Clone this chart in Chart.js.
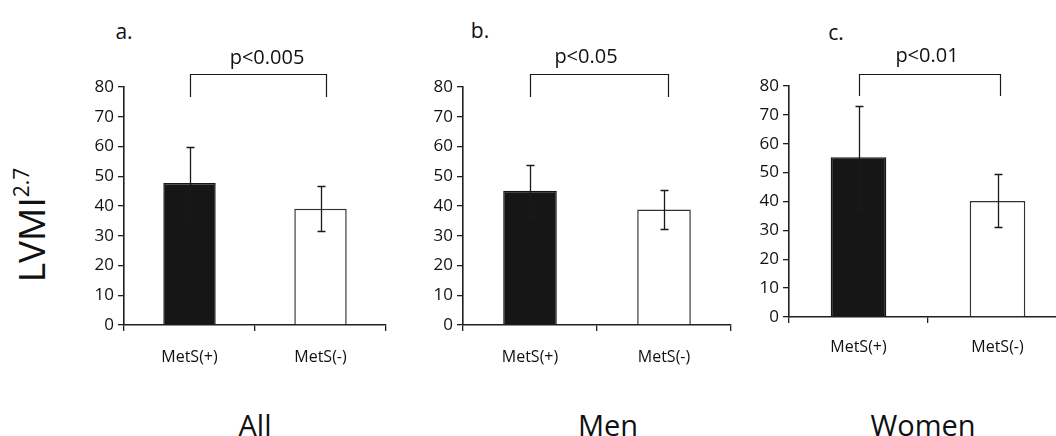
<!DOCTYPE html>
<html>
<head>
<meta charset="utf-8">
<script src="https://cdn.jsdelivr.net/npm/chart.js@4.4.1/dist/chart.umd.min.js"></script>
<style>
  html, body { margin: 0; padding: 0; background: #fff; overflow: hidden; }
  body { width: 1056px; height: 436px; position: relative; font-family: 'Open Sans', sans-serif; color: #111; }
  .panel { position: absolute; }
  .lbl { position: absolute; transform: translate(-50%, -50%); white-space: nowrap; line-height: 1; }
  .ylab { position: absolute; left: 30px; top: 225px; transform: translate(-50%, -50%) rotate(-90deg); font-size: 37px; white-space: nowrap; line-height: 1; }
  .ylab sup { font-size: 21px; vertical-align: 16px; }
</style>
</head>
<body>

<div class="ylab">LVMI<sup>2.7</sup></div>

<div class="panel" id="pa"><canvas id="ca"></canvas></div>
<div class="panel" id="pb"><canvas id="cb"></canvas></div>
<div class="panel" id="pc"><canvas id="cc"></canvas></div>

<div class="lbl" style="left:124px;top:31px;font-size:21px">a.</div>
<div class="lbl" style="left:480px;top:30px;font-size:21px">b.</div>
<div class="lbl" style="left:836px;top:32px;font-size:21px">c.</div>

<div class="lbl" style="left:267px;top:57px;font-size:20px">p&lt;0.005</div>
<div class="lbl" style="left:586px;top:56px;font-size:20px">p&lt;0.05</div>
<div class="lbl" style="left:927px;top:55px;font-size:20px">p&lt;0.01</div>

<div class="lbl" style="left:255px;top:424px;font-size:29px">All</div>
<div class="lbl" style="left:608px;top:424px;font-size:29px">Men</div>
<div class="lbl" style="left:923px;top:424px;font-size:29px">Women</div>

<script>
// ── Data ─────────────────────────────────────────────
const categories = ['MetS(+)', 'MetS(-)'];
const yTicks = [0, 10, 20, 30, 40, 50, 60, 70, 80];

const allMeans   = [47.7, 39.1];
const allSD      = [12.1, 7.5];
const menMeans   = [45.1, 38.8];
const menSD      = [8.7, 6.5];
const womenMeans = [55.3, 40.2];
const womenSD    = [17.7, 9.2];

const AXIS = '#1f1f1f';
const FONT = "'Open Sans', sans-serif";

// error bars + significance bracket
const errorBarPlugin = {
  id: 'errorBars',
  afterDatasetsDraw(chart, args, opts) {
    const { ctx } = chart;
    const y = chart.scales.y;
    const ds = chart.data.datasets[0];
    const meta = chart.getDatasetMeta(0);
    ctx.save();
    ctx.strokeStyle = '#1a1a1a';
    ctx.lineWidth = 1.3;
    meta.data.forEach((bar, i) => {
      const v = ds.data[i], sd = ds.sd[i];
      const yt = Math.round(y.getPixelForValue(v + sd)) + 0.5;
      const yb = Math.round(y.getPixelForValue(v - sd)) + 0.5;
      const x = Math.round(bar.x) + 0.5;
      ctx.beginPath();
      ctx.moveTo(x, yt); ctx.lineTo(x, yb);
      ctx.moveTo(x - 4, yt); ctx.lineTo(x + 4, yt);
      ctx.moveTo(x - 4, yb); ctx.lineTo(x + 4, yb);
      ctx.stroke();
    });
    // bracket
    const x1 = Math.round(meta.data[0].x) + 0.5;
    const x2 = Math.round(meta.data[1].x + opts.shift) + 0.5;
    const yT = Math.round(y.getPixelForValue(84.3)) + 0.5;
    const yB = Math.round(y.getPixelForValue(76.5));
    ctx.lineWidth = 1.2;
    ctx.beginPath();
    ctx.moveTo(x1, yB); ctx.lineTo(x1, yT); ctx.lineTo(x2, yT); ctx.lineTo(x2, yB);
    ctx.stroke();
    ctx.restore();
  }
};

function makePanel(divId, canvasId, box, means, sd, labelPad, shift) {
  const div = document.getElementById(divId);
  const yW = 50, padTop = 24, xH = 50, padRight = 12;
  div.style.left = (box.left - yW) + 'px';
  div.style.top = (box.top - padTop) + 'px';
  div.style.width = (yW + box.width + padRight) + 'px';
  div.style.height = (padTop + box.height + xH) + 'px';

  new Chart(document.getElementById(canvasId), {
    type: 'bar',
    data: {
      labels: categories,
      datasets: [{
        data: means,
        sd: sd,
        backgroundColor: ['#161616', '#ffffff'],
        borderColor: ['#161616', '#333333'],
        borderWidth: 1.5,
        borderSkipped: 'bottom',
        barPercentage: 0.4,
        categoryPercentage: 1.0,
      }]
    },
    options: {
      responsive: true,
      maintainAspectRatio: false,
      animation: false,
      events: [],
      layout: { padding: { top: padTop, right: padRight, left: 0, bottom: 0 } },
      plugins: {
        legend: { display: false },
        tooltip: { enabled: false },
        errorBars: { shift: shift },
      },
      scales: {
        x: {
          offset: true,
          grid: { display: true, offset: true, drawOnChartArea: false, tickLength: 6, color: AXIS, lineWidth: 1.3 },
          border: { display: true, color: AXIS, width: 1.6 },
          ticks: { color: '#111', font: { family: FONT, size: 16 }, padding: labelPad - 1, maxRotation: 0 },
          afterFit: s => { s.height = xH; },
        },
        y: {
          min: 0, max: 80,
          afterBuildTicks: s => { s.ticks = yTicks.map(v => ({ value: v })); },
          grid: { display: true, drawOnChartArea: false, tickLength: 6, color: AXIS, lineWidth: 1.3 },
          border: { display: true, color: AXIS, width: 1.6 },
          ticks: { color: '#111', font: { family: FONT, size: 17 }, padding: 4 },
          afterFit: s => { s.width = yW; },
        }
      }
    },
    plugins: [errorBarPlugin]
  });
}

makePanel('pa', 'ca', { left: 124, top: 87, width: 262, height: 238 }, allMeans, allSD, 18, 5);
makePanel('pb', 'cb', { left: 463, top: 87, width: 268, height: 238 }, menMeans, menSD, 18, 4);
makePanel('pc', 'cc', { left: 789, top: 86, width: 278, height: 231 }, womenMeans, womenSD, 16, 2);
</script>
</body>
</html>
